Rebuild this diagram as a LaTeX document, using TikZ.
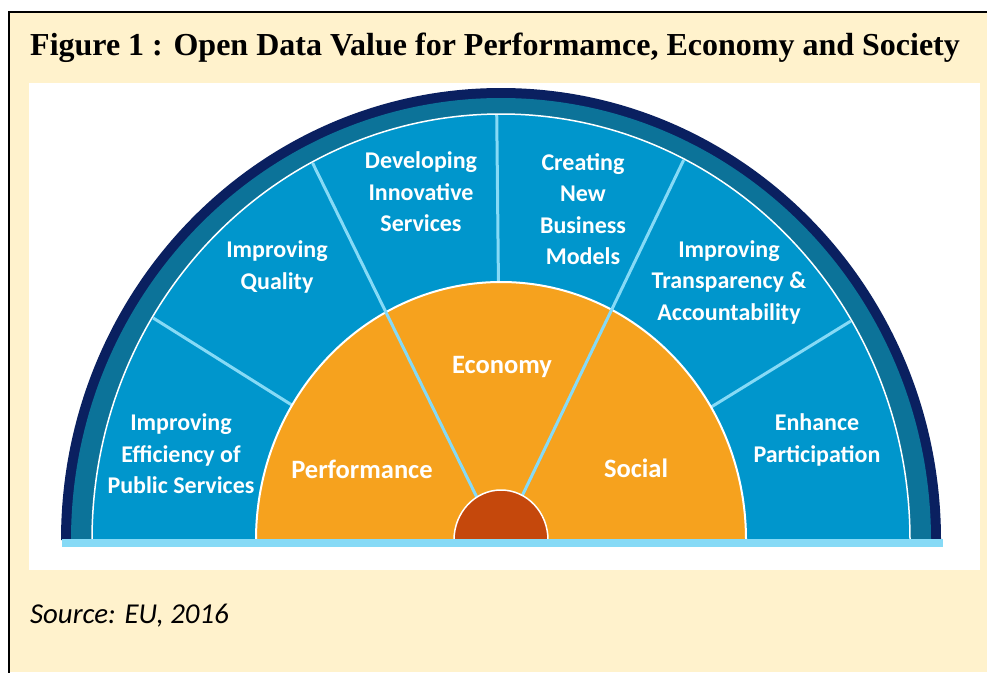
\documentclass[tikz,border=0pt]{standalone}
\usepackage{fontspec}
\setmainfont{Liberation Serif}
\newfontfamily\calibri{Carlito}
\usetikzlibrary{calc}

\definecolor{cream}{RGB}{255,242,204}
\definecolor{navyring}{RGB}{10,32,96}
\definecolor{tealring}{RGB}{12,115,153}
\definecolor{bluering}{RGB}{0,150,204}
\definecolor{lightring}{RGB}{134,218,246}
\definecolor{orangecore}{RGB}{246,162,30}
\definecolor{redhub}{RGB}{197,72,12}

\begin{document}
\begin{tikzpicture}[x=1pt, y=-1pt,
  every node/.style={inner sep=0pt},
  lbl/.style={font=\calibri\bfseries\fontsize{24}{31.5}\selectfont, text=white, align=center},
  core/.style={font=\calibri\bfseries\fontsize{26.5}{30}\selectfont, text=white, anchor=base},
  divider/.style={draw=lightring, line width=3pt}]

% Centre of the half disc
\def\cx{501}
\def\cy{540}

\useasboundingbox (0,0) rectangle (987,672);

% Page, frame and white panel
\fill[white] (0,0) rectangle (987,672);
\fill[cream] (9,12) rectangle (987,672);
\draw[line width=2pt] (995,12) -- (9,12) -- (9,680);
\fill[white] (29,83) rectangle (980,570);

\coordinate (C) at (\cx,\cy);

% Outer rings
\fill[navyring] ($(C)+(440pt,0pt)$) arc[start angle=0, end angle=180, x radius=440pt, y radius=452pt] -- cycle;
\fill[tealring] ($(C)+(430pt,0pt)$) arc[start angle=0, end angle=180, x radius=430pt, y radius=442pt] -- cycle;
\filldraw[fill=bluering, draw=white, line width=1.5pt] ($(C)+(409pt,0pt)$) arc[start angle=0, end angle=180, x radius=409pt, y radius=426pt] -- cycle;

% Short dividers of the blue ring
\foreach \a [count=\i] in {148.5,90.6,31} {
    \coordinate (so\i) at ($(C)+(\a:245pt and 258pt)$);
    \coordinate (sb\i) at ($(C)+(\a:408pt and 425pt)$);
    \draw[divider] (so\i) -- (sb\i);
}

% Orange core
\filldraw[fill=orangecore, draw=white, line width=2pt] ($(C)+(245pt,0pt)$) arc[start angle=0, end angle=180, x radius=245pt, y radius=258pt] -- cycle;

% Long dividers through the core
\foreach \a/\b [count=\i] in {117.5/121,63.4/63} {
    \coordinate (lb\i) at ($(C)+(\a:408pt and 425pt)$);
    \coordinate (lr\i) at ($(C)+(\b:47pt and 50pt)$);
    \draw[divider] (lb\i) -- (lr\i);
}

% Red hub
\filldraw[fill=redhub, draw=white, line width=1.5pt] ($(C)+(47pt,0pt)$) arc[start angle=0, end angle=180, x radius=47pt, y radius=50pt] -- cycle;

% Base strip
\fill[lightring] (62,539) rectangle (943,547);

% Labels of the blue ring
\node[lbl] (effic)   at (181,454) {Improving\\Efficiency of\\Public Services};
\node[lbl] (quality) at (277,267) {Improving\\Quality};
\node[lbl] (innov)   at (421,192) {Developing\\Innovative\\Services};
\node[lbl] (bizmod)  at (583,209) {Creating\\New\\Business\\Models};
\node[lbl] (transp)  at (729,282) {Improving\\Transparency \&\\Accountability};
\node[lbl] (partic)  at (817,440) {Enhance\\Participation};

% Labels of the core
\node[core] (perf)   at (362,478) {Performance};
\node[core] (econ)   at (502,373) {Economy};
\node[core] (social) at (636,477) {Social};

% Title and source
\node[anchor=base west, font=\bfseries\fontsize{32}{38}\selectfont] (title) at (30,55) {Figure 1 : Open Data Value for Performamce, Economy and Society};
\node[anchor=base west, font=\calibri\itshape\fontsize{28.8}{32}\selectfont] (source) at (30,623) {Source: EU, 2016};

\end{tikzpicture}
\end{document}
